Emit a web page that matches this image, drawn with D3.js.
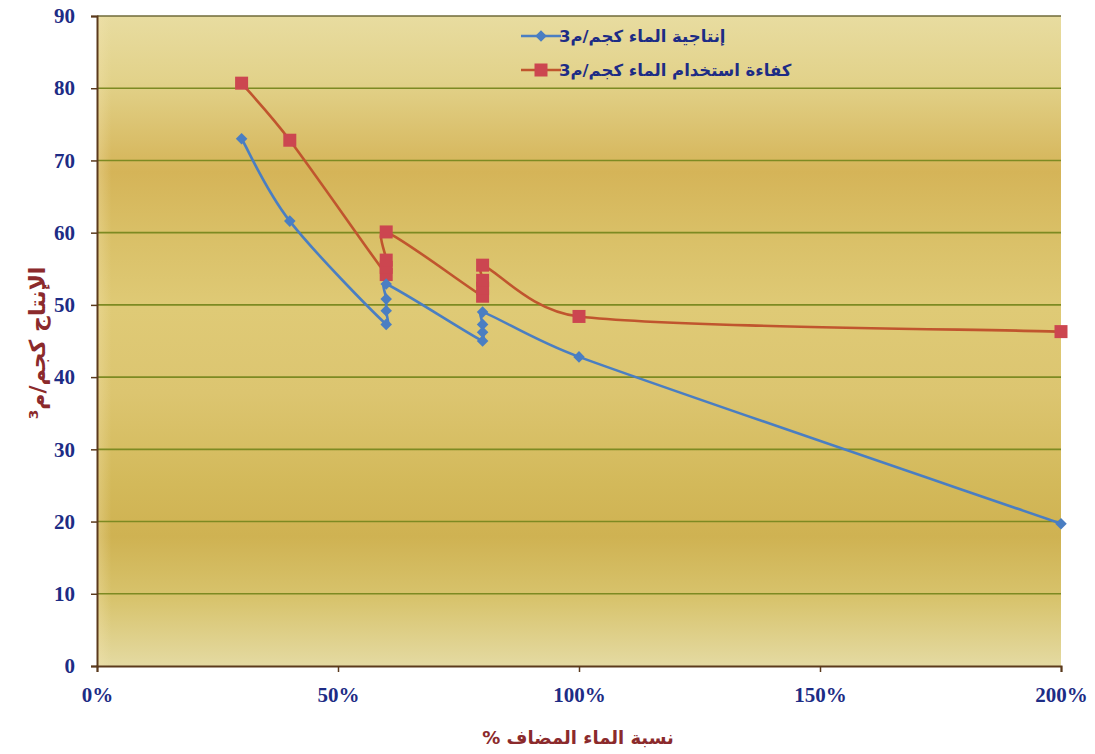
<!DOCTYPE html>
<html>
<head>
<meta charset="utf-8">
<script src="https://cdn.jsdelivr.net/npm/d3@7/dist/d3.min.js"></script>
<style>
  html, body { margin: 0; padding: 0; background: #ffffff; overflow: hidden; }
  svg { display: block; }
</style>
</head>
<body>
<svg id="chart" width="1095" height="754"></svg>
<script>
// Added-water ratio (fraction of requirement) and the two measured series
const productivityX = [0.3, 0.4, 0.6, 0.6, 0.6, 0.6, 0.8, 0.8, 0.8, 0.8, 1.0, 2.0];
const productivityY = [73.0, 61.6, 47.3, 49.2, 50.8, 52.9, 45.0, 46.2, 47.3, 49.0, 42.8, 19.7];
const efficiencyX = [0.3, 0.4, 0.6, 0.6, 0.6, 0.6, 0.8, 0.8, 0.8, 0.8, 1.0, 2.0];
const efficiencyY = [80.7, 72.8, 54.2, 55.2, 56.2, 60.1, 51.2, 52.3, 53.4, 55.5, 48.4, 46.3];

const xTicks = [0, 0.5, 1.0, 1.5, 2.0];
const yTicks = [0, 10, 20, 30, 40, 50, 60, 70, 80, 90];

const seriesNames = ["إنتاجية الماء  كجم/م3", "كفاءة استخدام الماء  كجم/م3"];
const yTitle = "الإنتاج كجم/م³";
const xTitle = "نسبة الماء المضاف  %";

const svg = d3.select("#chart");
const plot = { left: 97, right: 1061, top: 16, bottom: 666 };

const x = d3.scaleLinear().domain([0, 2]).range([plot.left, plot.right]);
const y = d3.scaleLinear().domain([0, 90]).range([plot.bottom, plot.top]);

// Banded golden fill of the plot area
const defs = svg.append("defs");
const grad = defs.append("linearGradient")
  .attr("id", "bg").attr("x1", 0).attr("y1", 0).attr("x2", 0).attr("y2", 1);
[
  [0.00, "#e8dca0"], [0.10, "#e2d28a"], [0.24, "#d5b458"], [0.33, "#d9bf66"],
  [0.45, "#dfca76"], [0.58, "#dcc570"], [0.72, "#d3b95a"], [0.80, "#cfb252"],
  [0.90, "#d8c46e"], [1.00, "#e4daa2"]
].forEach(([o, c]) => grad.append("stop").attr("offset", o).attr("stop-color", c));

const hgrad = defs.append("linearGradient")
  .attr("id", "edge").attr("x1", 0).attr("y1", 0).attr("x2", 1).attr("y2", 0);
hgrad.append("stop").attr("offset", 0).attr("stop-color", "#f6e6b4").attr("stop-opacity", 0.35);
hgrad.append("stop").attr("offset", 0.015).attr("stop-color", "#f6e6b4").attr("stop-opacity", 0);
hgrad.append("stop").attr("offset", 1).attr("stop-color", "#f6e6b4").attr("stop-opacity", 0);

svg.append("rect")
  .attr("x", plot.left).attr("y", plot.top)
  .attr("width", plot.right - plot.left).attr("height", plot.bottom - plot.top)
  .attr("fill", "url(#bg)");
svg.append("rect")
  .attr("x", plot.left).attr("y", plot.top)
  .attr("width", plot.right - plot.left).attr("height", plot.bottom - plot.top)
  .attr("fill", "url(#edge)");

// Horizontal gridlines
svg.append("g")
  .selectAll("line")
  .data(yTicks.filter(d => d > 0))
  .join("line")
  .attr("x1", plot.left).attr("x2", plot.right)
  .attr("y1", d => y(d)).attr("y2", d => y(d))
  .attr("stroke", d => d === 90 ? "#6f6a3a" : "#7d8a22")
  .attr("stroke-width", 1.6);

// Axes
const axisColor = "#5b3a1c";
const tickColor = "#1d2c85";

const yAxis = svg.append("g")
  .attr("transform", `translate(${plot.left},0)`)
  .call(d3.axisLeft(y).tickValues(yTicks).tickSize(6).tickPadding(16).tickFormat(d3.format("d")));
const xAxis = svg.append("g")
  .attr("transform", `translate(0,${plot.bottom})`)
  .call(d3.axisBottom(x).tickValues(xTicks).tickSize(6).tickPadding(14).tickFormat(d3.format(".0%")));

[yAxis, xAxis].forEach(g => {
  g.select(".domain").attr("stroke", axisColor).attr("stroke-width", 2);
  g.selectAll(".tick line").attr("stroke", axisColor).attr("stroke-width", 1.5);
  g.selectAll(".tick text")
    .attr("fill", tickColor)
    .attr("font-family", "'Liberation Serif', 'DejaVu Serif', serif")
    .attr("font-weight", "bold")
    .attr("font-size", 21);
});
xAxis.selectAll(".tick text").attr("dy", "0.75em");

// Smoothed series path: Catmull-Rom style tangents, with control arms
// limited relative to each segment so tightly packed points don't loop wide.
function smoothPath(pts) {
  const p = pts.map(d => [x(d[0]), y(d[1])]);
  const path = d3.path();
  path.moveTo(p[0][0], p[0][1]);
  const arm = (a, b, seg) => {
    let dx = (b[0] - a[0]) / 6, dy = (b[1] - a[1]) / 6;
    const len = Math.hypot(dx, dy), lim = 0.45 * seg;
    if (len > lim && len > 0) { dx *= lim / len; dy *= lim / len; }
    return [dx, dy];
  };
  for (let i = 0; i < p.length - 1; i++) {
    const p0 = p[Math.max(i - 1, 0)], p1 = p[i], p2 = p[i + 1], p3 = p[Math.min(i + 2, p.length - 1)];
    const seg = Math.hypot(p2[0] - p1[0], p2[1] - p1[1]);
    const a1 = arm(p0, p2, seg), a2 = arm(p1, p3, seg);
    path.bezierCurveTo(p1[0] + a1[0], p1[1] + a1[1], p2[0] - a2[0], p2[1] - a2[1], p2[0], p2[1]);
  }
  return path.toString();
}

const blue = "#4a7ec2";
const redLine = "#c0552e";
const redMark = "#cc4650";

const prodPts = productivityX.map((v, i) => [v, productivityY[i]]);
const effPts = efficiencyX.map((v, i) => [v, efficiencyY[i]]);

svg.append("path")
  .attr("d", smoothPath(effPts)).attr("fill", "none")
  .attr("stroke", redLine).attr("stroke-width", 2.6);
svg.append("path")
  .attr("d", smoothPath(prodPts)).attr("fill", "none")
  .attr("stroke", blue).attr("stroke-width", 2.6);

svg.append("g").selectAll("rect")
  .data(effPts).join("rect")
  .attr("x", d => x(d[0]) - 6.5).attr("y", d => y(d[1]) - 6.5)
  .attr("width", 13).attr("height", 13)
  .attr("fill", redMark);

const diamond = d3.symbol().type(d3.symbolDiamond2).size(85);
svg.append("g").selectAll("path")
  .data(prodPts).join("path")
  .attr("d", diamond)
  .attr("transform", d => `translate(${x(d[0])},${y(d[1])})`)
  .attr("fill", blue);

// Legend
const legend = svg.append("g");
const legendRows = [
  { name: seriesNames[0], color: blue, mark: "diamond", cy: 36 },
  { name: seriesNames[1], color: redLine, mark: "square", cy: 70 }
];
legendRows.forEach(r => {
  legend.append("line")
    .attr("x1", 521).attr("x2", 561).attr("y1", r.cy).attr("y2", r.cy)
    .attr("stroke", r.color).attr("stroke-width", 2.6);
  if (r.mark === "diamond") {
    legend.append("path").attr("d", diamond)
      .attr("transform", `translate(541,${r.cy})`).attr("fill", blue);
  } else {
    legend.append("rect").attr("x", 534.5).attr("y", r.cy - 6.5)
      .attr("width", 13).attr("height", 13).attr("fill", redMark);
  }
  legend.append("text")
    .attr("x", 559).attr("y", r.cy)
    .attr("dy", "0.35em")
    .attr("direction", "rtl")
    .attr("text-anchor", "end")
    .attr("fill", tickColor)
    .attr("font-family", "'DejaVu Sans', sans-serif")
    .attr("font-weight", "bold")
    .attr("font-size", 16.5)
    .text(r.name);
});

// Axis titles
const titleColor = "#8b2a2c";
svg.append("text")
  .attr("transform", `translate(37,${(plot.top + plot.bottom) / 2 + 2}) rotate(-90)`)
  .attr("direction", "rtl")
  .attr("text-anchor", "middle")
  .attr("dy", "0.35em")
  .attr("fill", titleColor)
  .attr("font-family", "'DejaVu Sans', sans-serif")
  .attr("font-weight", "bold")
  .attr("font-size", 22)
  .text(yTitle);

svg.append("text")
  .attr("x", (plot.left + plot.right) / 2 - 1).attr("y", 744)
  .attr("direction", "rtl")
  .attr("text-anchor", "middle")
  .attr("fill", titleColor)
  .attr("font-family", "'DejaVu Sans', sans-serif")
  .attr("font-weight", "bold")
  .attr("font-size", 18)
  .text(xTitle);
</script>
</body>
</html>
